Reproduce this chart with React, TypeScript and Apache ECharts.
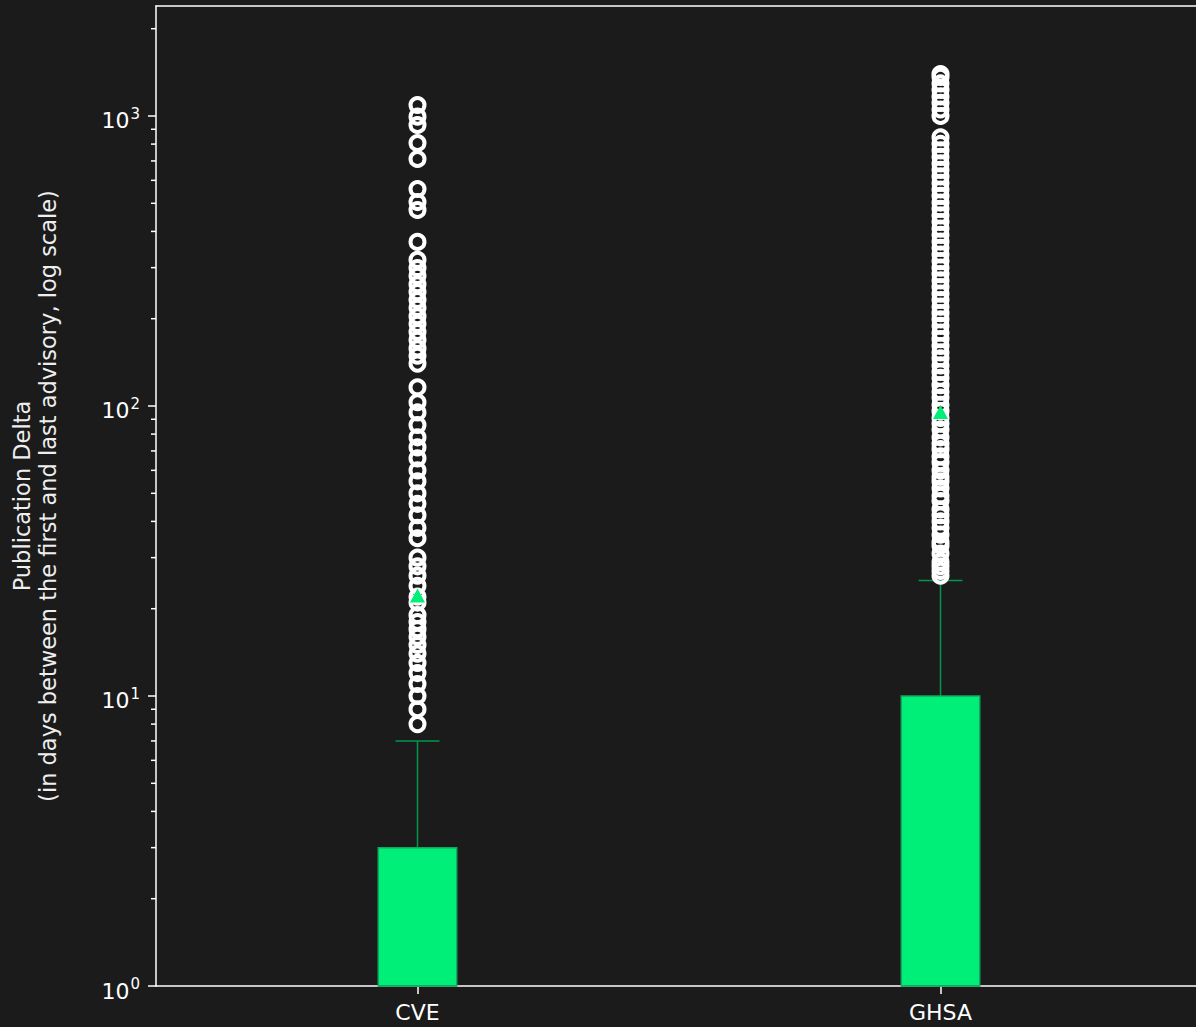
import React, { useEffect, useRef } from "react";
import * as echarts from "echarts";

const categories = ["CVE", "GHSA"];
const q1 = [1, 1];
const medians = [1, 1];
const q3 = [3, 10];
const whiskerLow = [1, 1];
const whiskerHigh = [7, 25];
const means = [22.2, 95.4];

const cveOutliers = [
  8, 9, 10, 11, 12, 13, 14, 15, 16, 17, 18, 19, 21, 22, 24, 26, 28, 30, 35, 38, 42, 46, 50,
  55, 60, 66, 72, 78, 86, 95, 103, 116, 140, 149, 158, 169, 180, 192, 204, 218, 232, 247, 263,
  281, 299, 319, 368, 474, 505, 560, 711, 807, 931, 995, 1091,
];
const ghsaOutliers = [
  26, 27, 28, 29, 31, 33, 34, 36, 38, 40, 42, 44, 47, 49, 52, 55, 57, 60, 64, 67, 71, 74, 78,
  83, 87, 91, 96, 101, 107, 112, 118, 125, 131, 138, 146, 153, 161, 170, 179, 189, 199, 209,
  220, 232, 244, 257, 271, 285, 300, 316, 333, 351, 369, 389, 409, 431, 454, 478, 503, 530,
  558, 588, 619, 652, 686, 723, 761, 801, 844, 1000, 1053, 1109, 1168, 1230, 1295, 1364, 1396,
];

const yMin = 1;
const yMax = 2395;
const majorTicks = [1, 10, 100, 1000];
const minorTicks = [
  2, 3, 4, 5, 6, 7, 8, 9, 20, 30, 40, 50, 60, 70, 80, 90, 200, 300, 400, 500, 600, 700, 800,
  900, 2000,
];

const BG = "#1b1b1b";
const BOX_FILL = "#00ef78";
const BOX_EDGE = "#13a860";
const WHISKER = "#00984c";
const WHITE = "#ffffff";
const FONT = "DejaVu Sans";

export default function App() {
  const ref = useRef<HTMLDivElement>(null);

  useEffect(() => {
    if (!ref.current) return;
    const chart = echarts.init(ref.current, undefined, { renderer: "svg" });

    const boxData = categories.map((_, i) => [i, q1[i], q3[i], whiskerLow[i], whiskerHigh[i], medians[i]]);
    const outlierData: number[][] = [];
    cveOutliers.forEach((v) => outlierData.push([0, v]));
    ghsaOutliers.forEach((v) => outlierData.push([1, v]));
    const meanData = means.map((m, i) => [i, m]);

    const tickSeries = (vals: number[], len: number) => ({
      type: "custom",
      silent: true,
      clip: false,
      z: 5,
      encode: { x: 0, y: 1 },
      data: vals.map((v) => [0, v]),
      renderItem: (params: any, api: any) => {
        const p = api.coord([0, api.value(1)]);
        const x0 = params.coordSys.x;
        return {
          type: "line",
          shape: { x1: x0 - len, y1: p[1], x2: x0, y2: p[1] },
          style: { stroke: WHITE, lineWidth: 1.5 },
        };
      },
    });

    chart.setOption({
      animation: false,
      backgroundColor: BG,
      grid: {
        left: 156,
        top: 6,
        width: 1046,
        height: 980,
        containLabel: false,
        outerBoundsMode: "none",
        show: false,
      },
      xAxis: [
        {
          type: "category",
          data: categories,
          boundaryGap: true,
          position: "bottom",
          axisLine: { show: true, onZero: false, lineStyle: { color: WHITE, width: 1.5 } },
          axisTick: { show: true, alignWithLabel: true, length: 8, lineStyle: { color: WHITE, width: 1.5 } },
          axisLabel: { color: WHITE, fontFamily: FONT, fontSize: 22, margin: 15 },
          splitLine: { show: false },
        },
        {
          type: "category",
          data: categories,
          boundaryGap: true,
          position: "top",
          axisLine: { show: true, onZero: false, lineStyle: { color: WHITE, width: 1.5 } },
          axisTick: { show: false },
          axisLabel: { show: false },
          splitLine: { show: false },
        },
      ],
      yAxis: {
        type: "log",
        logBase: 10,
        min: yMin,
        max: yMax,
        axisLine: { show: true, onZero: false, lineStyle: { color: WHITE, width: 1.5 } },
        axisTick: { show: false },
        splitLine: { show: false },
        minorTick: { show: false },
        axisLabel: {
          margin: 16,
          showMaxLabel: false,
          fontFamily: FONT,
          fontSize: 22,
          color: WHITE,
          formatter: (value: number) => {
            const e = Math.log10(value);
            const r = Math.round(e);
            if (Math.abs(e - r) > 1e-6 || !majorTicks.includes(Math.pow(10, r))) return "";
            return "{b|10}{s|" + r + "}";
          },
          rich: {
            b: { fontFamily: FONT, fontSize: 22, lineHeight: 22, color: WHITE, padding: [10, 0, 0, 0] },
            s: { fontFamily: FONT, fontSize: 15, lineHeight: 15, color: WHITE, padding: [0, 0, 4, 1] },
          },
        },
        name: "Publication Delta\n(in days between the first and last advisory, log scale)",
        nameLocation: "middle",
        nameRotate: 90,
        nameGap: 95,
        nameTextStyle: { color: "#eeeeee", fontFamily: FONT, fontSize: 22.5, lineHeight: 26, align: "center" },
      },
      series: [
        tickSeries(majorTicks, 8),
        tickSeries(minorTicks, 5),
        {
          type: "custom",
          silent: true,
          z: 2,
          encode: { x: 0, y: [1, 2, 3, 4] },
          data: boxData,
          renderItem: (params: any, api: any) => {
            const i = api.value(0);
            const pq1 = api.coord([i, api.value(1)]);
            const pq3 = api.coord([i, api.value(2)]);
            const plo = api.coord([i, api.value(3)]);
            const phi = api.coord([i, api.value(4)]);
            const pmed = api.coord([i, api.value(5)]);
            const band = params.coordSys.width / categories.length;
            const bw = band * 0.15;
            const cw = bw * 0.56;
            const x = pq1[0];
            return {
              type: "group",
              children: [
                { type: "line", shape: { x1: x, y1: pq3[1], x2: x, y2: phi[1] }, style: { stroke: WHISKER, lineWidth: 1.5 } },
                { type: "line", shape: { x1: x - cw / 2, y1: phi[1], x2: x + cw / 2, y2: phi[1] }, style: { stroke: WHISKER, lineWidth: 1.5 } },
                { type: "line", shape: { x1: x, y1: pq1[1], x2: x, y2: plo[1] }, style: { stroke: WHISKER, lineWidth: 1.5 } },
                { type: "rect", shape: { x: x - bw / 2, y: pq3[1], width: bw, height: pq1[1] - pq3[1] }, style: { fill: BOX_FILL, stroke: BOX_EDGE, lineWidth: 1.5 } },
                { type: "line", shape: { x1: x - bw / 2, y1: pmed[1], x2: x + bw / 2, y2: pmed[1] }, style: { stroke: BOX_EDGE, lineWidth: 1.5 } },
              ],
            };
          },
        },
        {
          type: "scatter",
          silent: true,
          z: 3,
          symbol: "circle",
          symbolSize: 14,
          itemStyle: { color: "rgba(0,0,0,0)", borderColor: WHITE, borderWidth: 4, opacity: 1 },
          data: outlierData,
        },
        {
          type: "scatter",
          silent: true,
          z: 10,
          symbol: "triangle",
          symbolSize: [15, 14],
          itemStyle: { color: BOX_FILL, opacity: 1 },
          data: meanData,
        },
      ],
    });

    return () => chart.dispose();
  }, []);

  return (
    <div style={{ position: "absolute", left: 0, top: 0, width: 1196, height: 1027, overflow: "hidden", background: BG }}>
      <div ref={ref} style={{ width: 1240, height: 1027 }} />
    </div>
  );
}
